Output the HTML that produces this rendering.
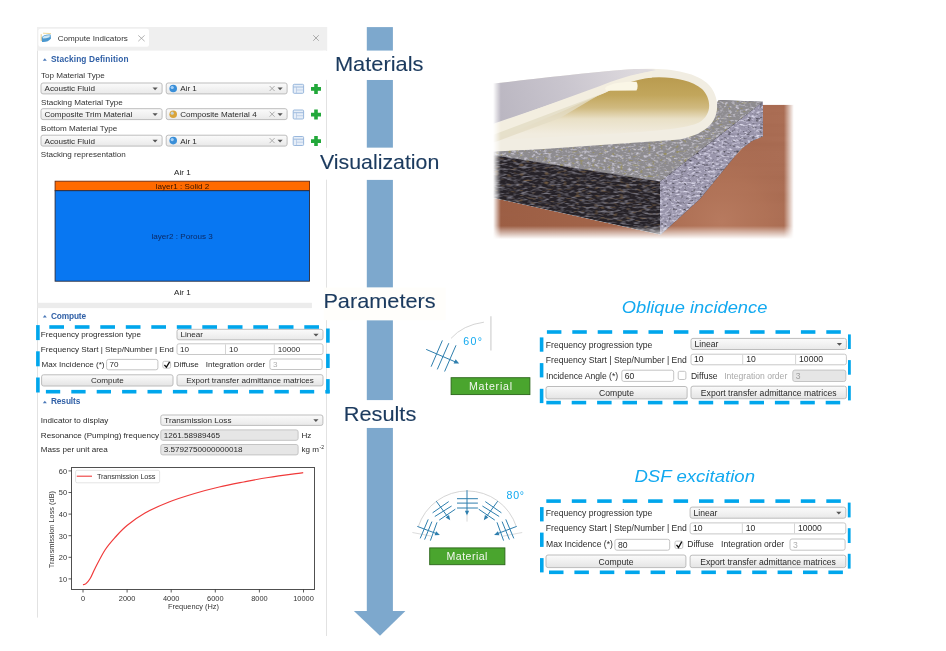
<!DOCTYPE html><html><head><meta charset="utf-8"><style>html,body{margin:0;padding:0;background:#fff;}svg{display:block;will-change:transform;}</style></head><body>
<svg width="946" height="651" viewBox="0 0 946 651" font-family='"Liberation Sans", sans-serif'>
<defs>
<linearGradient id="gcombo" x1="0" y1="0" x2="0" y2="1"><stop offset="0" stop-color="#fbfbfb"/><stop offset="1" stop-color="#e9e9e9"/></linearGradient>
<linearGradient id="gbtn" x1="0" y1="0" x2="0" y2="1"><stop offset="0" stop-color="#fbfbfb"/><stop offset="1" stop-color="#e4e4e4"/></linearGradient>
</defs>
<rect x="0.0" y="0.0" width="946.0" height="651.0" rx="0" fill="#ffffff" stroke="none" stroke-width="1"/>
<rect x="37.0" y="27.0" width="290.2" height="23.6" rx="0" fill="#efefef" stroke="none" stroke-width="1"/>
<rect x="38.4" y="28.8" width="110.6" height="17.9" rx="2" fill="#ffffff" stroke="none" stroke-width="1"/>
<path d="M41.5,37.5 Q44,34 50.5,34.5 L51,38.5 Q48,42.5 42,42 Z" fill="#4b98cf"/><path d="M42.5,37 Q45,34.8 50,35.3 L49.5,37.2 Q46,38.6 43,38.6 Z" fill="#cfe8f5"/><path d="M41.2,34.2 L41.2,41" stroke="#e0b860" stroke-width="0.7"/><path d="M43,33.2 L51,33.6" stroke="#e8c870" stroke-width="0.7"/>
<text x="57.7" y="40.5" font-size="8.1" fill="#333" font-weight="normal" font-style="normal" text-anchor="start">Compute Indicators</text>
<path d="M138.3,35.4 L144.6,41.2 M144.6,35.4 L138.3,41.2" stroke="#a0a0a0" stroke-width="0.8"/>
<path d="M313.2,35.2 L318.8,40.8 M318.8,35.2 L313.2,40.8" stroke="#9a9a9a" stroke-width="0.8"/>
<line x1="37.5" y1="50.6" x2="37.5" y2="617.6" stroke="#e2e2e2" stroke-width="1"/>
<line x1="326.5" y1="50.6" x2="326.5" y2="636.0" stroke="#e2e2e2" stroke-width="1"/>
<path d="M42.8,60.8 L44.8,58.3 L46.8,60.8 Z" fill="#4a78b8"/>
<text x="50.9" y="61.9" font-size="8.3" fill="#2f5fa6" font-weight="bold" font-style="normal" text-anchor="start" textLength="77.6" lengthAdjust="spacing">Stacking Definition</text>
<text x="41.0" y="78.3" font-size="8.1" fill="#333" font-weight="normal" font-style="normal" text-anchor="start">Top Material Type</text>
<rect x="41.0" y="83.0" width="121.1" height="10.9" rx="2" fill="url(#gcombo)" stroke="#bdbdbd" stroke-width="1"/>
<text x="44.5" y="91.3" font-size="8.1" fill="#2a2a2a" font-weight="normal" font-style="normal" text-anchor="start">Acoustic Fluid</text>
<path d="M152.5,87.5 L157.7,87.5 L155.1,90.2 Z" fill="#555"/>
<rect x="166.2" y="83.0" width="120.9" height="10.9" rx="2" fill="url(#gcombo)" stroke="#bdbdbd" stroke-width="1"/>
<circle cx="173.2" cy="88.5" r="3.8" fill="#3a8fd8"/>
<circle cx="172.2" cy="87.5" r="1.6" fill="#bfe0ff" opacity="0.8"/>
<text x="180.2" y="91.3" font-size="8.1" fill="#2a2a2a" font-weight="normal" font-style="normal" text-anchor="start">Air 1</text>
<path d="M277.5,87.5 L282.7,87.5 L280.1,90.2 Z" fill="#555"/>
<path d="M269.6,86.0 L274.6,91.0 M274.6,86.0 L269.6,91.0" stroke="#9a9a9a" stroke-width="0.8"/>
<rect x="293.2" y="84.3" width="10.4" height="9.0" rx="1" fill="#e6eef8" stroke="#8fb0d8" stroke-width="0.9"/>
<line x1="293.5" y1="87.0" x2="303.3" y2="87.0" stroke="#8fb0d8" stroke-width="0.8"/>
<line x1="296.5" y1="87.0" x2="296.5" y2="93.0" stroke="#a8c0e0" stroke-width="0.6"/>
<line x1="296.5" y1="90.0" x2="303.3" y2="90.0" stroke="#a8c0e0" stroke-width="0.6"/>
<path d="M314.2,83.9 h3.6 v3.2 h3.2 v3.6 h-3.2 v3.2 h-3.6 v-3.2 h-3.2 v-3.6 h3.2 z" fill="#22a83a"/>
<text x="41.0" y="104.6" font-size="8.1" fill="#333" font-weight="normal" font-style="normal" text-anchor="start">Stacking Material Type</text>
<rect x="41.0" y="108.7" width="121.1" height="10.9" rx="2" fill="url(#gcombo)" stroke="#bdbdbd" stroke-width="1"/>
<text x="44.5" y="117.0" font-size="8.1" fill="#2a2a2a" font-weight="normal" font-style="normal" text-anchor="start">Composite Trim Material</text>
<path d="M152.5,113.2 L157.7,113.2 L155.1,116.0 Z" fill="#555"/>
<rect x="166.2" y="108.7" width="120.9" height="10.9" rx="2" fill="url(#gcombo)" stroke="#bdbdbd" stroke-width="1"/>
<circle cx="173.2" cy="114.2" r="3.8" fill="#d9a43a"/>
<circle cx="172.2" cy="113.2" r="1.6" fill="#bfe0ff" opacity="0.8"/>
<text x="180.2" y="117.0" font-size="8.1" fill="#2a2a2a" font-weight="normal" font-style="normal" text-anchor="start">Composite Material 4</text>
<path d="M277.5,113.2 L282.7,113.2 L280.1,116.0 Z" fill="#555"/>
<path d="M269.6,111.7 L274.6,116.7 M274.6,111.7 L269.6,116.7" stroke="#9a9a9a" stroke-width="0.8"/>
<rect x="293.2" y="110.0" width="10.4" height="9.0" rx="1" fill="#e6eef8" stroke="#8fb0d8" stroke-width="0.9"/>
<line x1="293.5" y1="112.7" x2="303.3" y2="112.7" stroke="#8fb0d8" stroke-width="0.8"/>
<line x1="296.5" y1="112.7" x2="296.5" y2="118.7" stroke="#a8c0e0" stroke-width="0.6"/>
<line x1="296.5" y1="115.7" x2="303.3" y2="115.7" stroke="#a8c0e0" stroke-width="0.6"/>
<path d="M314.2,109.6 h3.6 v3.2 h3.2 v3.6 h-3.2 v3.2 h-3.6 v-3.2 h-3.2 v-3.6 h3.2 z" fill="#22a83a"/>
<text x="41.0" y="130.8" font-size="8.1" fill="#333" font-weight="normal" font-style="normal" text-anchor="start">Bottom Material Type</text>
<rect x="41.0" y="135.2" width="121.1" height="10.9" rx="2" fill="url(#gcombo)" stroke="#bdbdbd" stroke-width="1"/>
<text x="44.5" y="143.5" font-size="8.1" fill="#2a2a2a" font-weight="normal" font-style="normal" text-anchor="start">Acoustic Fluid</text>
<path d="M152.5,139.8 L157.7,139.8 L155.1,142.4 Z" fill="#555"/>
<rect x="166.2" y="135.2" width="120.9" height="10.9" rx="2" fill="url(#gcombo)" stroke="#bdbdbd" stroke-width="1"/>
<circle cx="173.2" cy="140.6" r="3.8" fill="#3a8fd8"/>
<circle cx="172.2" cy="139.6" r="1.6" fill="#bfe0ff" opacity="0.8"/>
<text x="180.2" y="143.5" font-size="8.1" fill="#2a2a2a" font-weight="normal" font-style="normal" text-anchor="start">Air 1</text>
<path d="M277.5,139.8 L282.7,139.8 L280.1,142.4 Z" fill="#555"/>
<path d="M269.6,138.1 L274.6,143.1 M274.6,138.1 L269.6,143.1" stroke="#9a9a9a" stroke-width="0.8"/>
<rect x="293.2" y="136.5" width="10.4" height="9.0" rx="1" fill="#e6eef8" stroke="#8fb0d8" stroke-width="0.9"/>
<line x1="293.5" y1="139.2" x2="303.3" y2="139.2" stroke="#8fb0d8" stroke-width="0.8"/>
<line x1="296.5" y1="139.2" x2="296.5" y2="145.2" stroke="#a8c0e0" stroke-width="0.6"/>
<line x1="296.5" y1="142.2" x2="303.3" y2="142.2" stroke="#a8c0e0" stroke-width="0.6"/>
<path d="M314.2,136.1 h3.6 v3.2 h3.2 v3.6 h-3.2 v3.2 h-3.6 v-3.2 h-3.2 v-3.6 h3.2 z" fill="#22a83a"/>
<text x="40.8" y="156.9" font-size="8.1" fill="#333" font-weight="normal" font-style="normal" text-anchor="start">Stacking representation</text>
<text x="174.1" y="175.4" font-size="8.1" fill="#222" font-weight="normal" font-style="normal" text-anchor="start">Air 1</text>
<rect x="55.1" y="181.2" width="254.4" height="9.5" rx="0" fill="#ff6a00" stroke="#6a2a10" stroke-width="0.9"/>
<text x="155.7" y="188.9" font-size="8.1" fill="#3a1500" font-weight="normal" font-style="normal" text-anchor="start">layer1 : Solid 2</text>
<rect x="55.1" y="190.7" width="254.4" height="90.5" rx="0" fill="#0877f2" stroke="#2a2a3a" stroke-width="0.9"/>
<text x="151.5" y="239.4" font-size="8.1" fill="#0b2a66" font-weight="normal" font-style="normal" text-anchor="start">layer2 : Porous 3</text>
<text x="174.0" y="294.7" font-size="8.1" fill="#222" font-weight="normal" font-style="normal" text-anchor="start">Air 1</text>
<rect x="37.5" y="302.8" width="274.4" height="5.3" rx="0" fill="#ececec" stroke="none" stroke-width="1"/>
<path d="M42.8,317.4 L44.8,314.9 L46.8,317.4 Z" fill="#4a78b8"/>
<text x="51.0" y="318.5" font-size="8.3" fill="#2f5fa6" font-weight="bold" font-style="normal" text-anchor="start" textLength="35.1" lengthAdjust="spacing">Compute</text>
<text x="40.8" y="336.9" font-size="8.1" fill="#2a2a2a" font-weight="normal" font-style="normal" text-anchor="start">Frequency progression type</text>
<rect x="177.0" y="329.3" width="146.0" height="10.5" rx="2" fill="url(#gcombo)" stroke="#bdbdbd" stroke-width="1"/>
<text x="180.5" y="337.2" font-size="8.1" fill="#2a2a2a" font-weight="normal" font-style="normal" text-anchor="start">Linear</text>
<path d="M313.4,333.7 L318.6,333.7 L316.0,336.4 Z" fill="#555"/>
<text x="40.8" y="351.9" font-size="8.1" fill="#2a2a2a" font-weight="normal" font-style="normal" text-anchor="start">Frequency Start | Step/Number | End</text>
<rect x="177.0" y="343.8" width="146.0" height="10.7" rx="2" fill="#ffffff" stroke="#c8c8c8" stroke-width="1"/>
<line x1="225.5" y1="344.3" x2="225.5" y2="354.0" stroke="#d4d4d4" stroke-width="1"/>
<line x1="274.3" y1="344.3" x2="274.3" y2="354.0" stroke="#d4d4d4" stroke-width="1"/>
<text x="180.0" y="351.9" font-size="8.1" fill="#2a2a2a" font-weight="normal" font-style="normal" text-anchor="start">10</text>
<text x="229.0" y="351.9" font-size="8.1" fill="#2a2a2a" font-weight="normal" font-style="normal" text-anchor="start">10</text>
<text x="277.8" y="351.9" font-size="8.1" fill="#2a2a2a" font-weight="normal" font-style="normal" text-anchor="start">10000</text>
<text x="41.5" y="367.2" font-size="8.1" fill="#2a2a2a" font-weight="normal" font-style="normal" text-anchor="start">Max Incidence (*)</text>
<rect x="106.6" y="359.4" width="51.3" height="10.4" rx="2" fill="#ffffff" stroke="#c4c4c4" stroke-width="1"/>
<text x="109.6" y="367.2" font-size="8.1" fill="#2a2a2a" font-weight="normal" font-style="normal" text-anchor="start">70</text>
<rect x="162.9" y="361.3" width="7.7" height="6.9" rx="1.5" fill="#ffffff" stroke="#c4c4c4" stroke-width="1"/>
<path d="M164.4,365.0 L166.4,367.2 L169.6,361.8" stroke="#111" stroke-width="1.3" fill="none"/>
<text x="173.8" y="367.2" font-size="8.1" fill="#2a2a2a" font-weight="normal" font-style="normal" text-anchor="start">Diffuse</text>
<text x="205.8" y="367.2" font-size="8.1" fill="#2a2a2a" font-weight="normal" font-style="normal" text-anchor="start">Integration order</text>
<rect x="269.9" y="359.0" width="52.2" height="10.5" rx="2" fill="#ffffff" stroke="#c4c4c4" stroke-width="1"/>
<text x="272.9" y="366.9" font-size="8.1" fill="#b0b0b0" font-weight="normal" font-style="normal" text-anchor="start">3</text>
<rect x="41.6" y="374.8" width="131.4" height="11.2" rx="2" fill="url(#gbtn)" stroke="#bcbcbc" stroke-width="1"/>
<text x="107.3" y="383.3" font-size="8.1" fill="#2a2a2a" font-weight="normal" font-style="normal" text-anchor="middle">Compute</text>
<rect x="177.0" y="374.7" width="146.0" height="11.2" rx="2" fill="url(#gbtn)" stroke="#bcbcbc" stroke-width="1"/>
<text x="250.0" y="383.2" font-size="8.1" fill="#2a2a2a" font-weight="normal" font-style="normal" text-anchor="middle">Export transfer admittance matrices</text>
<rect x="49.3" y="325.2" width="14.7" height="3.6" rx="0" fill="#00a6ec" stroke="none" stroke-width="1"/>
<rect x="74.8" y="325.2" width="14.7" height="3.6" rx="0" fill="#00a6ec" stroke="none" stroke-width="1"/>
<rect x="100.3" y="325.2" width="14.7" height="3.6" rx="0" fill="#00a6ec" stroke="none" stroke-width="1"/>
<rect x="125.8" y="325.2" width="14.7" height="3.6" rx="0" fill="#00a6ec" stroke="none" stroke-width="1"/>
<rect x="151.3" y="325.2" width="14.7" height="3.6" rx="0" fill="#00a6ec" stroke="none" stroke-width="1"/>
<rect x="176.8" y="325.2" width="14.7" height="3.6" rx="0" fill="#00a6ec" stroke="none" stroke-width="1"/>
<rect x="202.3" y="325.2" width="14.7" height="3.6" rx="0" fill="#00a6ec" stroke="none" stroke-width="1"/>
<rect x="227.8" y="325.2" width="14.7" height="3.6" rx="0" fill="#00a6ec" stroke="none" stroke-width="1"/>
<rect x="253.3" y="325.2" width="14.7" height="3.6" rx="0" fill="#00a6ec" stroke="none" stroke-width="1"/>
<rect x="278.8" y="325.2" width="14.7" height="3.6" rx="0" fill="#00a6ec" stroke="none" stroke-width="1"/>
<rect x="304.3" y="325.2" width="14.7" height="3.6" rx="0" fill="#00a6ec" stroke="none" stroke-width="1"/>
<rect x="45.9" y="389.9" width="14.3" height="3.6" rx="0" fill="#00a6ec" stroke="none" stroke-width="1"/>
<rect x="71.3" y="389.9" width="14.3" height="3.6" rx="0" fill="#00a6ec" stroke="none" stroke-width="1"/>
<rect x="96.7" y="389.9" width="14.3" height="3.6" rx="0" fill="#00a6ec" stroke="none" stroke-width="1"/>
<rect x="122.1" y="389.9" width="14.3" height="3.6" rx="0" fill="#00a6ec" stroke="none" stroke-width="1"/>
<rect x="147.5" y="389.9" width="14.3" height="3.6" rx="0" fill="#00a6ec" stroke="none" stroke-width="1"/>
<rect x="172.9" y="389.9" width="14.3" height="3.6" rx="0" fill="#00a6ec" stroke="none" stroke-width="1"/>
<rect x="198.3" y="389.9" width="14.3" height="3.6" rx="0" fill="#00a6ec" stroke="none" stroke-width="1"/>
<rect x="223.7" y="389.9" width="14.3" height="3.6" rx="0" fill="#00a6ec" stroke="none" stroke-width="1"/>
<rect x="249.1" y="389.9" width="14.3" height="3.6" rx="0" fill="#00a6ec" stroke="none" stroke-width="1"/>
<rect x="274.5" y="389.9" width="14.3" height="3.6" rx="0" fill="#00a6ec" stroke="none" stroke-width="1"/>
<rect x="299.9" y="389.9" width="14.3" height="3.6" rx="0" fill="#00a6ec" stroke="none" stroke-width="1"/>
<rect x="325.3" y="389.9" width="4.3" height="3.6" rx="0" fill="#00a6ec" stroke="none" stroke-width="1"/>
<rect x="36.1" y="325.1" width="3.6" height="15.0" rx="0" fill="#00a6ec" stroke="none" stroke-width="1"/>
<rect x="36.1" y="351.3" width="3.6" height="15.0" rx="0" fill="#00a6ec" stroke="none" stroke-width="1"/>
<rect x="36.1" y="377.5" width="3.6" height="15.0" rx="0" fill="#00a6ec" stroke="none" stroke-width="1"/>
<rect x="326.1" y="328.5" width="3.6" height="14.2" rx="0" fill="#00a6ec" stroke="none" stroke-width="1"/>
<rect x="326.1" y="353.8" width="3.6" height="14.2" rx="0" fill="#00a6ec" stroke="none" stroke-width="1"/>
<rect x="326.1" y="379.1" width="3.6" height="14.2" rx="0" fill="#00a6ec" stroke="none" stroke-width="1"/>
<path d="M42.8,403.2 L44.8,400.7 L46.8,403.2 Z" fill="#4a78b8"/>
<text x="50.9" y="404.3" font-size="8.3" fill="#2f5fa6" font-weight="bold" font-style="normal" text-anchor="start" textLength="29.5" lengthAdjust="spacing">Results</text>
<text x="40.8" y="423.1" font-size="8.1" fill="#2a2a2a" font-weight="normal" font-style="normal" text-anchor="start">Indicator to display</text>
<rect x="160.8" y="415.0" width="162.1" height="10.4" rx="2" fill="url(#gcombo)" stroke="#bdbdbd" stroke-width="1"/>
<text x="164.3" y="422.8" font-size="8.1" fill="#2a2a2a" font-weight="normal" font-style="normal" text-anchor="start">Transmission Loss</text>
<path d="M313.3,419.3 L318.5,419.3 L315.9,422.0 Z" fill="#555"/>
<text x="40.8" y="438.2" font-size="8.1" fill="#2a2a2a" font-weight="normal" font-style="normal" text-anchor="start">Resonance (Pumping) frequency</text>
<rect x="160.8" y="429.9" width="137.3" height="10.4" rx="2" fill="#e6e6e6" stroke="#c4c4c4" stroke-width="1"/>
<text x="163.8" y="437.7" font-size="8.1" fill="#2a2a2a" font-weight="normal" font-style="normal" text-anchor="start">1261.58989465</text>
<text x="301.5" y="438.2" font-size="8.1" fill="#2a2a2a" font-weight="normal" font-style="normal" text-anchor="start">Hz</text>
<text x="40.8" y="452.4" font-size="8.1" fill="#2a2a2a" font-weight="normal" font-style="normal" text-anchor="start">Mass per unit area</text>
<rect x="160.8" y="444.5" width="137.3" height="10.4" rx="2" fill="#e6e6e6" stroke="#c4c4c4" stroke-width="1"/>
<text x="163.8" y="452.3" font-size="8.1" fill="#2a2a2a" font-weight="normal" font-style="normal" text-anchor="start">3.5792750000000018</text>
<text x="301.5" y="452.4" font-size="8.1" fill="#2a2a2a" font-weight="normal" font-style="normal" text-anchor="start">kg m</text>
<text x="319.5" y="448.5" font-size="5" fill="#2a2a2a" font-weight="normal" font-style="normal" text-anchor="start">-2</text>
<rect x="71.5" y="467.5" width="243.0" height="122.0" rx="0" fill="#ffffff" stroke="#505050" stroke-width="1.0"/>
<line x1="68.5" y1="578.9" x2="71.5" y2="578.9" stroke="#333" stroke-width="0.8"/>
<text x="67.0" y="581.7" font-size="7.4" fill="#333" font-weight="normal" font-style="normal" text-anchor="end">10</text>
<line x1="68.5" y1="557.3" x2="71.5" y2="557.3" stroke="#333" stroke-width="0.8"/>
<text x="67.0" y="560.1" font-size="7.4" fill="#333" font-weight="normal" font-style="normal" text-anchor="end">20</text>
<line x1="68.5" y1="535.7" x2="71.5" y2="535.7" stroke="#333" stroke-width="0.8"/>
<text x="67.0" y="538.5" font-size="7.4" fill="#333" font-weight="normal" font-style="normal" text-anchor="end">30</text>
<line x1="68.5" y1="514.1" x2="71.5" y2="514.1" stroke="#333" stroke-width="0.8"/>
<text x="67.0" y="516.9" font-size="7.4" fill="#333" font-weight="normal" font-style="normal" text-anchor="end">40</text>
<line x1="68.5" y1="492.5" x2="71.5" y2="492.5" stroke="#333" stroke-width="0.8"/>
<text x="67.0" y="495.3" font-size="7.4" fill="#333" font-weight="normal" font-style="normal" text-anchor="end">50</text>
<line x1="68.5" y1="470.9" x2="71.5" y2="470.9" stroke="#333" stroke-width="0.8"/>
<text x="67.0" y="473.7" font-size="7.4" fill="#333" font-weight="normal" font-style="normal" text-anchor="end">60</text>
<line x1="83.0" y1="589.5" x2="83.0" y2="592.5" stroke="#333" stroke-width="0.8"/>
<text x="83.0" y="600.5" font-size="7.4" fill="#333" font-weight="normal" font-style="normal" text-anchor="middle">0</text>
<line x1="127.1" y1="589.5" x2="127.1" y2="592.5" stroke="#333" stroke-width="0.8"/>
<text x="127.1" y="600.5" font-size="7.4" fill="#333" font-weight="normal" font-style="normal" text-anchor="middle">2000</text>
<line x1="171.2" y1="589.5" x2="171.2" y2="592.5" stroke="#333" stroke-width="0.8"/>
<text x="171.2" y="600.5" font-size="7.4" fill="#333" font-weight="normal" font-style="normal" text-anchor="middle">4000</text>
<line x1="215.3" y1="589.5" x2="215.3" y2="592.5" stroke="#333" stroke-width="0.8"/>
<text x="215.3" y="600.5" font-size="7.4" fill="#333" font-weight="normal" font-style="normal" text-anchor="middle">6000</text>
<line x1="259.4" y1="589.5" x2="259.4" y2="592.5" stroke="#333" stroke-width="0.8"/>
<text x="259.4" y="600.5" font-size="7.4" fill="#333" font-weight="normal" font-style="normal" text-anchor="middle">8000</text>
<line x1="303.5" y1="589.5" x2="303.5" y2="592.5" stroke="#333" stroke-width="0.8"/>
<text x="303.5" y="600.5" font-size="7.4" fill="#333" font-weight="normal" font-style="normal" text-anchor="middle">10000</text>
<text x="193.5" y="609.4" font-size="7.4" fill="#333" font-weight="normal" font-style="normal" text-anchor="middle">Frequency (Hz)</text>
<text x="0" y="0" font-size="7.4" fill="#333" text-anchor="middle" transform="translate(54.1,529.6) rotate(-90)">Transmission Loss (dB)</text>
<path d="M83.00,584.80 C83.50,584.60 84.83,584.60 86.00,583.60 C87.17,582.60 88.50,581.32 90.00,578.80 C91.50,576.28 92.50,573.30 95.00,568.50 C97.50,563.70 101.58,555.25 105.00,550.00 C108.42,544.75 111.83,541.08 115.50,537.00 C119.17,532.92 122.08,529.50 127.00,525.50 C131.92,521.50 138.00,516.92 145.00,513.00 C152.00,509.08 160.73,505.25 169.00,502.00 C177.27,498.75 186.23,496.00 194.60,493.50 C202.97,491.00 211.02,488.92 219.20,487.00 C227.38,485.08 235.52,483.58 243.70,482.00 C251.88,480.42 258.38,479.07 268.30,477.50 C278.22,475.93 297.38,473.42 303.20,472.60" fill="none" stroke="#f03a3a" stroke-width="1.2" stroke-linejoin="round"/>
<rect x="75.6" y="470.3" width="84.0" height="12.5" rx="1.5" fill="#ffffff" stroke="#d8d8d8" stroke-width="0.7"/>
<line x1="76.8" y1="476.2" x2="92.0" y2="476.2" stroke="#ee3b3b" stroke-width="1.1"/>
<text x="97.0" y="479.0" font-size="7.4" fill="#333" font-weight="normal" font-style="normal" text-anchor="start" textLength="58.5" lengthAdjust="spacing">Transmission Loss</text>
<rect x="366.8" y="27.1" width="26.1" height="23.6" rx="0" fill="#7da8cd" stroke="none" stroke-width="1"/>
<rect x="366.8" y="79.9" width="26.1" height="67.9" rx="0" fill="#7da8cd" stroke="none" stroke-width="1"/>
<rect x="366.8" y="179.7" width="26.1" height="107.9" rx="0" fill="#7da8cd" stroke="none" stroke-width="1"/>
<rect x="366.8" y="320.2" width="26.1" height="80.1" rx="0" fill="#7da8cd" stroke="none" stroke-width="1"/>
<rect x="366.8" y="427.8" width="26.1" height="183.4" rx="0" fill="#7da8cd" stroke="none" stroke-width="1"/>
<path d="M353.9,611 L405.4,611 L380,635.8 Z" fill="#7da8cd"/>
<rect x="323.0" y="50.8" width="103.0" height="29.1" rx="0" fill="#ffffff" stroke="none" stroke-width="1"/>
<rect x="314.0" y="147.8" width="128.0" height="31.9" rx="0" fill="#ffffff" stroke="none" stroke-width="1"/>
<rect x="323.8" y="287.6" width="121.8" height="32.6" rx="0" fill="#fffefb" stroke="none" stroke-width="1"/>
<rect x="336.0" y="400.3" width="84.0" height="27.5" rx="0" fill="#ffffff" stroke="none" stroke-width="1"/>
<text x="334.9" y="71.3" font-size="20.8" fill="#1b3a5e" font-weight="normal" font-style="normal" text-anchor="start" textLength="88.5" lengthAdjust="spacingAndGlyphs" stroke="#1b3a5e" stroke-width="0.12">Materials</text>
<text x="320.0" y="169.2" font-size="20.8" fill="#1b3a5e" font-weight="normal" font-style="normal" text-anchor="start" textLength="119.3" lengthAdjust="spacingAndGlyphs" stroke="#1b3a5e" stroke-width="0.12">Visualization</text>
<text x="323.4" y="308.1" font-size="20.8" fill="#1b3a5e" font-weight="normal" font-style="normal" text-anchor="start" textLength="112.2" lengthAdjust="spacingAndGlyphs" stroke="#1b3a5e" stroke-width="0.12">Parameters</text>
<text x="343.7" y="421.3" font-size="20.8" fill="#1b3a5e" font-weight="normal" font-style="normal" text-anchor="start" textLength="72.6" lengthAdjust="spacingAndGlyphs" stroke="#1b3a5e" stroke-width="0.12">Results</text>
<defs>
<linearGradient id="gmx" gradientUnits="userSpaceOnUse" x1="490" y1="0" x2="800" y2="0">
  <stop offset="0.010" stop-color="#000"/><stop offset="0.035" stop-color="#fff"/><stop offset="0.948" stop-color="#fff"/><stop offset="0.98" stop-color="#000"/>
</linearGradient>
<linearGradient id="gmy" gradientUnits="userSpaceOnUse" x1="0" y1="40" x2="0" y2="250">
  <stop offset="0.0" stop-color="#fff"/><stop offset="0.885" stop-color="#fff"/><stop offset="0.948" stop-color="#000"/>
</linearGradient>
<mask id="pmask" maskUnits="userSpaceOnUse" x="470" y="40" width="340" height="220">
  <rect x="470" y="40" width="340" height="220" fill="url(#gmx)"/>
</mask>
<mask id="pmask2" maskUnits="userSpaceOnUse" x="470" y="40" width="340" height="220">
  <rect x="470" y="40" width="340" height="220" fill="url(#gmy)"/>
</mask>
<linearGradient id="gwoodx" gradientUnits="userSpaceOnUse" x1="495" y1="0" x2="790" y2="0">
  <stop offset="0" stop-color="#9c5e44"/><stop offset="0.5" stop-color="#a4664b"/><stop offset="1" stop-color="#ab6e55"/>
</linearGradient>
<radialGradient id="gwoodhi" gradientUnits="userSpaceOnUse" cx="722" cy="222" r="90" fx="722" fy="222">
  <stop offset="0" stop-color="#b87b60" stop-opacity="0.95"/><stop offset="0.5" stop-color="#b27458" stop-opacity="0.7"/><stop offset="1" stop-color="#a86a50" stop-opacity="0"/>
</radialGradient>
<linearGradient id="gwoodtop" gradientUnits="userSpaceOnUse" x1="0" y1="104" x2="0" y2="170">
  <stop offset="0" stop-color="#5a2a30" stop-opacity="0.0"/><stop offset="1" stop-color="#5a2a30" stop-opacity="0"/>
</linearGradient>
<filter id="speckDark" x="0" y="0" width="100%" height="100%" color-interpolation-filters="sRGB">
  <feTurbulence type="fractalNoise" baseFrequency="0.14 0.45" numOctaves="2" seed="7" result="n"/>
  <feColorMatrix in="n" type="matrix" values="0 0 0 0 0.46  0 0 0 0 0.45  0 0 0 0 0.49  3.0 0 0 0 -1.33" result="s1"/>
  <feTurbulence type="fractalNoise" baseFrequency="0.16 0.45" numOctaves="1" seed="21" result="n2"/>
  <feColorMatrix in="n2" type="matrix" values="0 0 0 0 0.45  0 0 0 0 0.36  0 0 0 0 0.26  4 0 0 0 -2.3" result="s2"/>
  <feMerge result="m"><feMergeNode in="SourceGraphic"/><feMergeNode in="s1"/><feMergeNode in="s2"/></feMerge>
  <feComposite in="m" in2="SourceAlpha" operator="in"/>
</filter>
<filter id="speckLight" x="0" y="0" width="100%" height="100%" color-interpolation-filters="sRGB">
  <feTurbulence type="fractalNoise" baseFrequency="0.25 0.45" numOctaves="2" seed="11" result="n"/>
  <feColorMatrix in="n" type="matrix" values="0 0 0 0 0.86  0 0 0 0 0.85  0 0 0 0 0.92  3.0 0 0 0 -1.45" result="s1"/>
  <feTurbulence type="fractalNoise" baseFrequency="0.25 0.45" numOctaves="2" seed="4" result="n2"/>
  <feColorMatrix in="n2" type="matrix" values="0 0 0 0 0.25  0 0 0 0 0.24  0 0 0 0 0.28  3 0 0 0 -1.7" result="s2"/>
  <feMerge result="m"><feMergeNode in="SourceGraphic"/><feMergeNode in="s1"/><feMergeNode in="s2"/></feMerge>
  <feComposite in="m" in2="SourceAlpha" operator="in"/>
</filter>
<filter id="speckTop" x="0" y="0" width="100%" height="100%" color-interpolation-filters="sRGB">
  <feTurbulence type="fractalNoise" baseFrequency="0.25 0.45" numOctaves="2" seed="13" result="n"/>
  <feColorMatrix in="n" type="matrix" values="0 0 0 0 0.80  0 0 0 0 0.79  0 0 0 0 0.84  3.0 0 0 0 -1.45" result="s1"/>
  <feTurbulence type="fractalNoise" baseFrequency="0.25 0.45" numOctaves="1" seed="9" result="n2"/>
  <feColorMatrix in="n2" type="matrix" values="0 0 0 0 0.60  0 0 0 0 0.56  0 0 0 0 0.30  4 0 0 0 -2.4" result="s2"/>
  <feMerge result="m"><feMergeNode in="SourceGraphic"/><feMergeNode in="s1"/><feMergeNode in="s2"/></feMerge>
  <feComposite in="m" in2="SourceAlpha" operator="in"/>
</filter>
<filter id="woodgrain" x="0" y="0" width="100%" height="100%" color-interpolation-filters="sRGB">
  <feTurbulence type="fractalNoise" baseFrequency="0.002 0.11" numOctaves="2" seed="5" result="n"/>
  <feColorMatrix in="n" type="matrix" values="0 0 0 0 0.62  0 0 0 0 0.38  0 0 0 0 0.28  0.9 0 0 0 -0.4" result="s"/>
  <feMerge result="m"><feMergeNode in="SourceGraphic"/><feMergeNode in="s"/></feMerge>
  <feComposite in="m" in2="SourceAlpha" operator="in"/>
</filter>
<linearGradient id="gwood" gradientUnits="userSpaceOnUse" x1="0" y1="100" x2="0" y2="235">
  <stop offset="0" stop-color="#a8664a"/><stop offset="0.5" stop-color="#b87a5c"/><stop offset="1" stop-color="#c79274"/>
</linearGradient>
<linearGradient id="gunder" gradientUnits="userSpaceOnUse" x1="495" y1="120" x2="640" y2="70">
  <stop offset="0" stop-color="#b9b5c0"/><stop offset="0.5" stop-color="#c9c5ce"/><stop offset="1" stop-color="#dedade"/>
</linearGradient>
<linearGradient id="gtan" gradientUnits="userSpaceOnUse" x1="0" y1="76" x2="0" y2="134">
  <stop offset="0" stop-color="#b89a4e"/><stop offset="0.33" stop-color="#c2a65c"/><stop offset="0.55" stop-color="#d0ba80"/><stop offset="0.74" stop-color="#e9e0c6"/><stop offset="1" stop-color="#f1ecdf"/>
</linearGradient>
</defs>
<g mask="url(#pmask)"><g mask="url(#pmask2)">
<path d="M470,198 L495,198.2 L660,234.6 L661,234.6 L748,142 L763,136.2 L763,104.8 L810,104.8 L810,260 L470,260 Z" fill="url(#gwoodx)" filter="url(#woodgrain)"/>
<path d="M661,234.6 L700,199 L740,150 L752,141 L763,136.2 L763,104.8 L810,104.8 L810,260 L600,260 Z" fill="url(#gwoodhi)"/>
<path d="M470,151 L540,148.5 L680,139 L708,125 L718.4,100.1 L763,101.8 L763,136.2 L752,141 L740,150 L700,199 L661,234.6 L660,234.6 L495,198.2 L470,198 Z" fill="#5a5862"/>
<path d="M470,155 L495,155.4 L660,181.5 L661,234.6 L495,198.2 L470,198 Z" fill="#262228" filter="url(#speckDark)"/>
<path d="M660,181.5 L763,101.8 L763,136.2 L752,141 L740,150 L700,199 L661,234.6 L660,234.6 Z" fill="#9a96ac" filter="url(#speckLight)"/>
<path d="M470,151 L540,148.5 L680,139 L708,125 L718.4,100.1 L763,101.8 L660,181.5 L495,155.4 L470,155 Z" fill="#8e8c90" filter="url(#speckTop)"/>
<path d="M470,84 L492.6,83.5 C530,80 580,73 627,69.6 C660,67 695,70 709,85 C720,97 720,117 708,127 C700,134 690,137 680,139.6 L540,149.2 L495,151.5 L470,152 Z" fill="#f1ede2"/>
<path d="M470,84 L492.6,83.5 C530,80 580,73 627,69.6 C640,68.8 650,69 656,70 C640,73 624,78 604.2,86 L492.6,124 L470,125 Z" fill="url(#gunder)"/>
<path d="M606.8,92 C620,85 628,80 645,78 C668,75.5 690,79 702,89 C712,99 712,115 699,122.5 C688,128 660,131 610,134 L492.6,140 C540,122 580,103 606.8,92 Z" fill="url(#gtan)"/>
<path d="M492.6,134 L604,92 L560,118 L492.6,143 Z" fill="#e4dcc4" opacity="0.8"/>
<path d="M492.6,125 L600,86 C615,80 632,74 652,71.5 L652,77.5 C632,80 618,86 604,93 L492.6,135 Z" fill="#f3eee0"/>
<path d="M605,88 C610,83 622,81.7 636.5,81.7 C638,84 638,88 636.5,90.6 L606,90.8 Z" fill="#faf6e6"/>
</g></g>
<text x="621.8" y="312.8" font-size="17" fill="#12a9f0" font-weight="normal" font-style="italic" text-anchor="start" textLength="145.6" lengthAdjust="spacingAndGlyphs">Oblique incidence</text>
<text x="634.4" y="481.6" font-size="17" fill="#12a9f0" font-weight="normal" font-style="italic" text-anchor="start" textLength="120.6" lengthAdjust="spacingAndGlyphs">DSF excitation</text>
<text x="545.8" y="347.6" font-size="8.6" fill="#2a2a2a" font-weight="normal" font-style="normal" text-anchor="start">Frequency progression type</text>
<rect x="691.0" y="338.4" width="155.4" height="11.1" rx="2" fill="url(#gcombo)" stroke="#bdbdbd" stroke-width="1"/>
<text x="694.5" y="346.9" font-size="8.6" fill="#2a2a2a" font-weight="normal" font-style="normal" text-anchor="start">Linear</text>
<path d="M836.8,343.1 L842.0,343.1 L839.4,345.8 Z" fill="#555"/>
<text x="545.8" y="362.8" font-size="8.6" fill="#2a2a2a" font-weight="normal" font-style="normal" text-anchor="start">Frequency Start | Step/Number | End</text>
<rect x="691.0" y="354.2" width="155.4" height="10.6" rx="2" fill="#ffffff" stroke="#c8c8c8" stroke-width="1"/>
<line x1="742.7" y1="354.7" x2="742.7" y2="364.3" stroke="#d4d4d4" stroke-width="1"/>
<line x1="795.6" y1="354.7" x2="795.6" y2="364.3" stroke="#d4d4d4" stroke-width="1"/>
<text x="694.0" y="362.2" font-size="8.6" fill="#2a2a2a" font-weight="normal" font-style="normal" text-anchor="start">10</text>
<text x="746.2" y="362.2" font-size="8.6" fill="#2a2a2a" font-weight="normal" font-style="normal" text-anchor="start">10</text>
<text x="799.1" y="362.2" font-size="8.6" fill="#2a2a2a" font-weight="normal" font-style="normal" text-anchor="start">10000</text>
<text x="546.0" y="379.0" font-size="8.6" fill="#2a2a2a" font-weight="normal" font-style="normal" text-anchor="start">Incidence Angle (*)</text>
<rect x="621.8" y="370.2" width="51.9" height="11.2" rx="2" fill="#ffffff" stroke="#c4c4c4" stroke-width="1"/>
<text x="624.8" y="378.8" font-size="8.6" fill="#2a2a2a" font-weight="normal" font-style="normal" text-anchor="start">60</text>
<rect x="678.2" y="371.3" width="7.7" height="8.2" rx="1.5" fill="#ffffff" stroke="#c4c4c4" stroke-width="1"/>
<text x="690.9" y="379.0" font-size="8.6" fill="#2a2a2a" font-weight="normal" font-style="normal" text-anchor="start">Diffuse</text>
<text x="724.2" y="379.0" font-size="8.6" fill="#a8a8a8" font-weight="normal" font-style="normal" text-anchor="start">Integration order</text>
<rect x="792.8" y="370.1" width="53.0" height="11.4" rx="2" fill="#e6e6e6" stroke="#c4c4c4" stroke-width="1"/>
<text x="795.8" y="378.9" font-size="8.6" fill="#a0a0a0" font-weight="normal" font-style="normal" text-anchor="start">3</text>
<rect x="546.0" y="386.5" width="141.1" height="12.4" rx="2" fill="url(#gbtn)" stroke="#bcbcbc" stroke-width="1"/>
<text x="616.5" y="396.2" font-size="8.6" fill="#2a2a2a" font-weight="normal" font-style="normal" text-anchor="middle">Compute</text>
<rect x="691.0" y="386.2" width="155.4" height="12.5" rx="2" fill="url(#gbtn)" stroke="#bcbcbc" stroke-width="1"/>
<text x="768.7" y="396.0" font-size="8.6" fill="#2a2a2a" font-weight="normal" font-style="normal" text-anchor="middle">Export transfer admittance matrices</text>
<rect x="546.9" y="330.2" width="14.5" height="3.6" rx="0" fill="#00a6ec" stroke="none" stroke-width="1"/>
<rect x="572.3" y="330.2" width="14.5" height="3.6" rx="0" fill="#00a6ec" stroke="none" stroke-width="1"/>
<rect x="597.7" y="330.2" width="14.5" height="3.6" rx="0" fill="#00a6ec" stroke="none" stroke-width="1"/>
<rect x="623.1" y="330.2" width="14.5" height="3.6" rx="0" fill="#00a6ec" stroke="none" stroke-width="1"/>
<rect x="648.5" y="330.2" width="14.5" height="3.6" rx="0" fill="#00a6ec" stroke="none" stroke-width="1"/>
<rect x="673.9" y="330.2" width="14.5" height="3.6" rx="0" fill="#00a6ec" stroke="none" stroke-width="1"/>
<rect x="699.3" y="330.2" width="14.5" height="3.6" rx="0" fill="#00a6ec" stroke="none" stroke-width="1"/>
<rect x="724.7" y="330.2" width="14.5" height="3.6" rx="0" fill="#00a6ec" stroke="none" stroke-width="1"/>
<rect x="750.1" y="330.2" width="14.5" height="3.6" rx="0" fill="#00a6ec" stroke="none" stroke-width="1"/>
<rect x="775.5" y="330.2" width="14.5" height="3.6" rx="0" fill="#00a6ec" stroke="none" stroke-width="1"/>
<rect x="800.9" y="330.2" width="14.5" height="3.6" rx="0" fill="#00a6ec" stroke="none" stroke-width="1"/>
<rect x="826.3" y="330.2" width="14.5" height="3.6" rx="0" fill="#00a6ec" stroke="none" stroke-width="1"/>
<rect x="546.3" y="400.8" width="14.5" height="3.6" rx="0" fill="#00a6ec" stroke="none" stroke-width="1"/>
<rect x="571.7" y="400.8" width="14.5" height="3.6" rx="0" fill="#00a6ec" stroke="none" stroke-width="1"/>
<rect x="597.1" y="400.8" width="14.5" height="3.6" rx="0" fill="#00a6ec" stroke="none" stroke-width="1"/>
<rect x="622.5" y="400.8" width="14.5" height="3.6" rx="0" fill="#00a6ec" stroke="none" stroke-width="1"/>
<rect x="647.9" y="400.8" width="14.5" height="3.6" rx="0" fill="#00a6ec" stroke="none" stroke-width="1"/>
<rect x="673.3" y="400.8" width="14.5" height="3.6" rx="0" fill="#00a6ec" stroke="none" stroke-width="1"/>
<rect x="698.7" y="400.8" width="14.5" height="3.6" rx="0" fill="#00a6ec" stroke="none" stroke-width="1"/>
<rect x="724.1" y="400.8" width="14.5" height="3.6" rx="0" fill="#00a6ec" stroke="none" stroke-width="1"/>
<rect x="749.5" y="400.8" width="14.5" height="3.6" rx="0" fill="#00a6ec" stroke="none" stroke-width="1"/>
<rect x="774.9" y="400.8" width="14.5" height="3.6" rx="0" fill="#00a6ec" stroke="none" stroke-width="1"/>
<rect x="800.3" y="400.8" width="14.5" height="3.6" rx="0" fill="#00a6ec" stroke="none" stroke-width="1"/>
<rect x="825.7" y="400.8" width="14.5" height="3.6" rx="0" fill="#00a6ec" stroke="none" stroke-width="1"/>
<rect x="539.8" y="337.4" width="3.6" height="14.3" rx="0" fill="#00a6ec" stroke="none" stroke-width="1"/>
<rect x="539.8" y="363.1" width="3.6" height="14.3" rx="0" fill="#00a6ec" stroke="none" stroke-width="1"/>
<rect x="539.8" y="388.8" width="3.6" height="14.3" rx="0" fill="#00a6ec" stroke="none" stroke-width="1"/>
<rect x="848.0" y="334.4" width="2.8" height="14.6" rx="0" fill="#00a6ec" stroke="none" stroke-width="1"/>
<rect x="848.0" y="360.1" width="2.8" height="14.6" rx="0" fill="#00a6ec" stroke="none" stroke-width="1"/>
<rect x="848.0" y="385.8" width="2.8" height="14.6" rx="0" fill="#00a6ec" stroke="none" stroke-width="1"/>
<text x="545.8" y="515.9" font-size="8.6" fill="#2a2a2a" font-weight="normal" font-style="normal" text-anchor="start">Frequency progression type</text>
<rect x="690.1" y="507.1" width="155.7" height="11.1" rx="2" fill="url(#gcombo)" stroke="#bdbdbd" stroke-width="1"/>
<text x="693.6" y="515.6" font-size="8.6" fill="#2a2a2a" font-weight="normal" font-style="normal" text-anchor="start">Linear</text>
<path d="M836.2,511.8 L841.4,511.8 L838.8,514.5 Z" fill="#555"/>
<text x="545.8" y="531.1" font-size="8.6" fill="#2a2a2a" font-weight="normal" font-style="normal" text-anchor="start">Frequency Start | Step/Number | End</text>
<rect x="690.1" y="522.9" width="155.7" height="11.0" rx="2" fill="#ffffff" stroke="#c8c8c8" stroke-width="1"/>
<line x1="742.3" y1="523.4" x2="742.3" y2="533.4" stroke="#d4d4d4" stroke-width="1"/>
<line x1="794.5" y1="523.4" x2="794.5" y2="533.4" stroke="#d4d4d4" stroke-width="1"/>
<text x="693.1" y="531.3" font-size="8.6" fill="#2a2a2a" font-weight="normal" font-style="normal" text-anchor="start">10</text>
<text x="745.8" y="531.3" font-size="8.6" fill="#2a2a2a" font-weight="normal" font-style="normal" text-anchor="start">10</text>
<text x="798.0" y="531.3" font-size="8.6" fill="#2a2a2a" font-weight="normal" font-style="normal" text-anchor="start">10000</text>
<text x="546.0" y="547.3" font-size="8.6" fill="#2a2a2a" font-weight="normal" font-style="normal" text-anchor="start">Max Incidence (*)</text>
<rect x="614.9" y="539.3" width="54.8" height="10.9" rx="2" fill="#ffffff" stroke="#c4c4c4" stroke-width="1"/>
<text x="617.9" y="547.6" font-size="8.6" fill="#2a2a2a" font-weight="normal" font-style="normal" text-anchor="start">80</text>
<rect x="675.0" y="541.1" width="7.8" height="7.4" rx="1.5" fill="#ffffff" stroke="#c4c4c4" stroke-width="1"/>
<path d="M676.5,544.8 L678.5,547.5 L681.8,541.6" stroke="#111" stroke-width="1.3" fill="none"/>
<text x="687.2" y="547.3" font-size="8.6" fill="#2a2a2a" font-weight="normal" font-style="normal" text-anchor="start">Diffuse</text>
<text x="721.1" y="547.3" font-size="8.6" fill="#2a2a2a" font-weight="normal" font-style="normal" text-anchor="start">Integration order</text>
<rect x="790.0" y="539.0" width="55.1" height="11.2" rx="2" fill="#ffffff" stroke="#c4c4c4" stroke-width="1"/>
<text x="793.0" y="547.6" font-size="8.6" fill="#b0b0b0" font-weight="normal" font-style="normal" text-anchor="start">3</text>
<rect x="546.0" y="555.0" width="139.9" height="12.6" rx="2" fill="url(#gbtn)" stroke="#bcbcbc" stroke-width="1"/>
<text x="616.0" y="564.9" font-size="8.6" fill="#2a2a2a" font-weight="normal" font-style="normal" text-anchor="middle">Compute</text>
<rect x="690.1" y="555.2" width="155.7" height="12.4" rx="2" fill="url(#gbtn)" stroke="#bcbcbc" stroke-width="1"/>
<text x="768.0" y="564.9" font-size="8.6" fill="#2a2a2a" font-weight="normal" font-style="normal" text-anchor="middle">Export transfer admittance matrices</text>
<rect x="546.3" y="499.3" width="14.5" height="3.6" rx="0" fill="#00a6ec" stroke="none" stroke-width="1"/>
<rect x="571.8" y="499.3" width="14.5" height="3.6" rx="0" fill="#00a6ec" stroke="none" stroke-width="1"/>
<rect x="597.2" y="499.3" width="14.5" height="3.6" rx="0" fill="#00a6ec" stroke="none" stroke-width="1"/>
<rect x="622.7" y="499.3" width="14.5" height="3.6" rx="0" fill="#00a6ec" stroke="none" stroke-width="1"/>
<rect x="648.1" y="499.3" width="14.5" height="3.6" rx="0" fill="#00a6ec" stroke="none" stroke-width="1"/>
<rect x="673.6" y="499.3" width="14.5" height="3.6" rx="0" fill="#00a6ec" stroke="none" stroke-width="1"/>
<rect x="699.0" y="499.3" width="14.5" height="3.6" rx="0" fill="#00a6ec" stroke="none" stroke-width="1"/>
<rect x="724.5" y="499.3" width="14.5" height="3.6" rx="0" fill="#00a6ec" stroke="none" stroke-width="1"/>
<rect x="749.9" y="499.3" width="14.5" height="3.6" rx="0" fill="#00a6ec" stroke="none" stroke-width="1"/>
<rect x="775.4" y="499.3" width="14.5" height="3.6" rx="0" fill="#00a6ec" stroke="none" stroke-width="1"/>
<rect x="800.8" y="499.3" width="14.5" height="3.6" rx="0" fill="#00a6ec" stroke="none" stroke-width="1"/>
<rect x="826.3" y="499.3" width="14.5" height="3.6" rx="0" fill="#00a6ec" stroke="none" stroke-width="1"/>
<rect x="549.0" y="570.5" width="14.5" height="3.6" rx="0" fill="#00a6ec" stroke="none" stroke-width="1"/>
<rect x="574.4" y="570.5" width="14.5" height="3.6" rx="0" fill="#00a6ec" stroke="none" stroke-width="1"/>
<rect x="599.8" y="570.5" width="14.5" height="3.6" rx="0" fill="#00a6ec" stroke="none" stroke-width="1"/>
<rect x="625.2" y="570.5" width="14.5" height="3.6" rx="0" fill="#00a6ec" stroke="none" stroke-width="1"/>
<rect x="650.6" y="570.5" width="14.5" height="3.6" rx="0" fill="#00a6ec" stroke="none" stroke-width="1"/>
<rect x="676.0" y="570.5" width="14.5" height="3.6" rx="0" fill="#00a6ec" stroke="none" stroke-width="1"/>
<rect x="701.4" y="570.5" width="14.5" height="3.6" rx="0" fill="#00a6ec" stroke="none" stroke-width="1"/>
<rect x="726.8" y="570.5" width="14.5" height="3.6" rx="0" fill="#00a6ec" stroke="none" stroke-width="1"/>
<rect x="752.2" y="570.5" width="14.5" height="3.6" rx="0" fill="#00a6ec" stroke="none" stroke-width="1"/>
<rect x="777.6" y="570.5" width="14.5" height="3.6" rx="0" fill="#00a6ec" stroke="none" stroke-width="1"/>
<rect x="803.0" y="570.5" width="14.5" height="3.6" rx="0" fill="#00a6ec" stroke="none" stroke-width="1"/>
<rect x="828.4" y="570.5" width="14.5" height="3.6" rx="0" fill="#00a6ec" stroke="none" stroke-width="1"/>
<rect x="540.0" y="507.1" width="3.6" height="14.3" rx="0" fill="#00a6ec" stroke="none" stroke-width="1"/>
<rect x="540.0" y="532.6" width="3.6" height="14.3" rx="0" fill="#00a6ec" stroke="none" stroke-width="1"/>
<rect x="540.0" y="558.1" width="3.6" height="14.3" rx="0" fill="#00a6ec" stroke="none" stroke-width="1"/>
<rect x="847.8" y="502.6" width="2.8" height="14.8" rx="0" fill="#00a6ec" stroke="none" stroke-width="1"/>
<rect x="847.8" y="528.2" width="2.8" height="14.8" rx="0" fill="#00a6ec" stroke="none" stroke-width="1"/>
<rect x="847.8" y="553.8" width="2.8" height="14.8" rx="0" fill="#00a6ec" stroke="none" stroke-width="1"/>
<line x1="490.9" y1="316.2" x2="490.9" y2="350.4" stroke="#d4d4d4" stroke-width="1.3"/>
<path d="M451.1,338.3 Q463,325 483.9,322.2" fill="none" stroke="#cfcfcf" stroke-width="0.9"/>
<text x="463.2" y="344.8" font-size="10.6" fill="#12a9f0" font-weight="normal" font-style="normal" text-anchor="start" textLength="18.8" lengthAdjust="spacing">60°</text>
<line x1="426.2" y1="349.4" x2="456.5" y2="362.4" stroke="#2f7fae" stroke-width="1"/>
<path d="M459.2,363.5 L453.6,363.6 L455.6,359.3 Z" fill="#2f7fae"/>
<line x1="442.4" y1="340.4" x2="431.1" y2="366.7" stroke="#2f7fae" stroke-width="1"/>
<line x1="448.8" y1="343.2" x2="437.3" y2="369.4" stroke="#2f7fae" stroke-width="1"/>
<line x1="456.0" y1="345.3" x2="444.6" y2="371.5" stroke="#2f7fae" stroke-width="1"/>
<rect x="451.1" y="377.7" width="78.8" height="16.9" rx="0" fill="#4aa52e" stroke="#2a6419" stroke-width="0.9"/>
<text x="469.0" y="390.2" font-size="10.6" fill="#f4f8f0" font-weight="normal" font-style="normal" text-anchor="start" textLength="43.0" lengthAdjust="spacing">Material</text>
<path d="M418.3,526.6 A 51.5 51.5 0 0 1 516.3,526.6" fill="none" stroke="#d0d0d0" stroke-width="0.9"/>
<line x1="412.4" y1="532.5" x2="431.7" y2="536.2" stroke="#d8d8d8" stroke-width="0.9"/>
<line x1="522.2" y1="532.5" x2="502.9" y2="536.2" stroke="#d8d8d8" stroke-width="0.9"/>
<line x1="467.0" y1="515.0" x2="467.0" y2="521.6" stroke="#d8d8d8" stroke-width="1"/>
<text x="506.5" y="499.2" font-size="10.6" fill="#12a9f0" font-weight="normal" font-style="normal" text-anchor="start" textLength="17.6" lengthAdjust="spacing">80°</text>
<line x1="467.0" y1="490.2" x2="467.0" y2="513.5" stroke="#2f7fae" stroke-width="1"/>
<path d="M467.0,515.5 L464.9,510.7 L469.1,510.7 Z" fill="#2f7fae"/>
<line x1="457.0" y1="498.7" x2="477.9" y2="498.7" stroke="#2f7fae" stroke-width="1"/>
<line x1="457.0" y1="503.1" x2="477.9" y2="503.1" stroke="#2f7fae" stroke-width="1"/>
<line x1="457.0" y1="508.0" x2="477.9" y2="508.0" stroke="#2f7fae" stroke-width="1"/>
<line x1="436.3" y1="501.2" x2="449.0" y2="518.6" stroke="#2f7fae" stroke-width="1"/>
<path d="M450.2,520.2 L445.7,517.6 L449.0,515.1 Z" fill="#2f7fae"/>
<line x1="432.6" y1="512.8" x2="448.7" y2="501.6" stroke="#2f7fae" stroke-width="1"/>
<line x1="434.8" y1="516.5" x2="451.6" y2="506.0" stroke="#2f7fae" stroke-width="1"/>
<line x1="439.2" y1="520.1" x2="455.3" y2="509.2" stroke="#2f7fae" stroke-width="1"/>
<line x1="497.7" y1="501.2" x2="485.0" y2="518.6" stroke="#2f7fae" stroke-width="1"/>
<path d="M483.8,520.2 L485.0,515.1 L488.3,517.6 Z" fill="#2f7fae"/>
<line x1="501.4" y1="512.8" x2="485.3" y2="501.6" stroke="#2f7fae" stroke-width="1"/>
<line x1="499.2" y1="516.5" x2="482.4" y2="506.0" stroke="#2f7fae" stroke-width="1"/>
<line x1="494.8" y1="520.1" x2="478.7" y2="509.2" stroke="#2f7fae" stroke-width="1"/>
<line x1="417.3" y1="526.4" x2="438.0" y2="534.2" stroke="#2f7fae" stroke-width="1"/>
<path d="M439.9,534.9 L434.6,535.2 L436.1,531.2 Z" fill="#2f7fae"/>
<line x1="420.2" y1="538.4" x2="428.2" y2="519.4" stroke="#2f7fae" stroke-width="1"/>
<line x1="424.6" y1="539.6" x2="431.9" y2="521.6" stroke="#2f7fae" stroke-width="1"/>
<line x1="430.4" y1="540.6" x2="437.0" y2="522.3" stroke="#2f7fae" stroke-width="1"/>
<line x1="516.7" y1="526.4" x2="496.0" y2="534.2" stroke="#2f7fae" stroke-width="1"/>
<path d="M494.1,534.9 L497.9,531.2 L499.4,535.2 Z" fill="#2f7fae"/>
<line x1="513.8" y1="538.4" x2="505.8" y2="519.4" stroke="#2f7fae" stroke-width="1"/>
<line x1="509.4" y1="539.6" x2="502.1" y2="521.6" stroke="#2f7fae" stroke-width="1"/>
<line x1="503.6" y1="540.6" x2="497.0" y2="522.3" stroke="#2f7fae" stroke-width="1"/>
<rect x="429.7" y="547.9" width="75.2" height="16.8" rx="0" fill="#4aa52e" stroke="#2a6419" stroke-width="0.9"/>
<text x="446.5" y="560.0" font-size="10.6" fill="#f4f8f0" font-weight="normal" font-style="normal" text-anchor="start" textLength="40.9" lengthAdjust="spacing">Material</text>
</svg></body></html>
